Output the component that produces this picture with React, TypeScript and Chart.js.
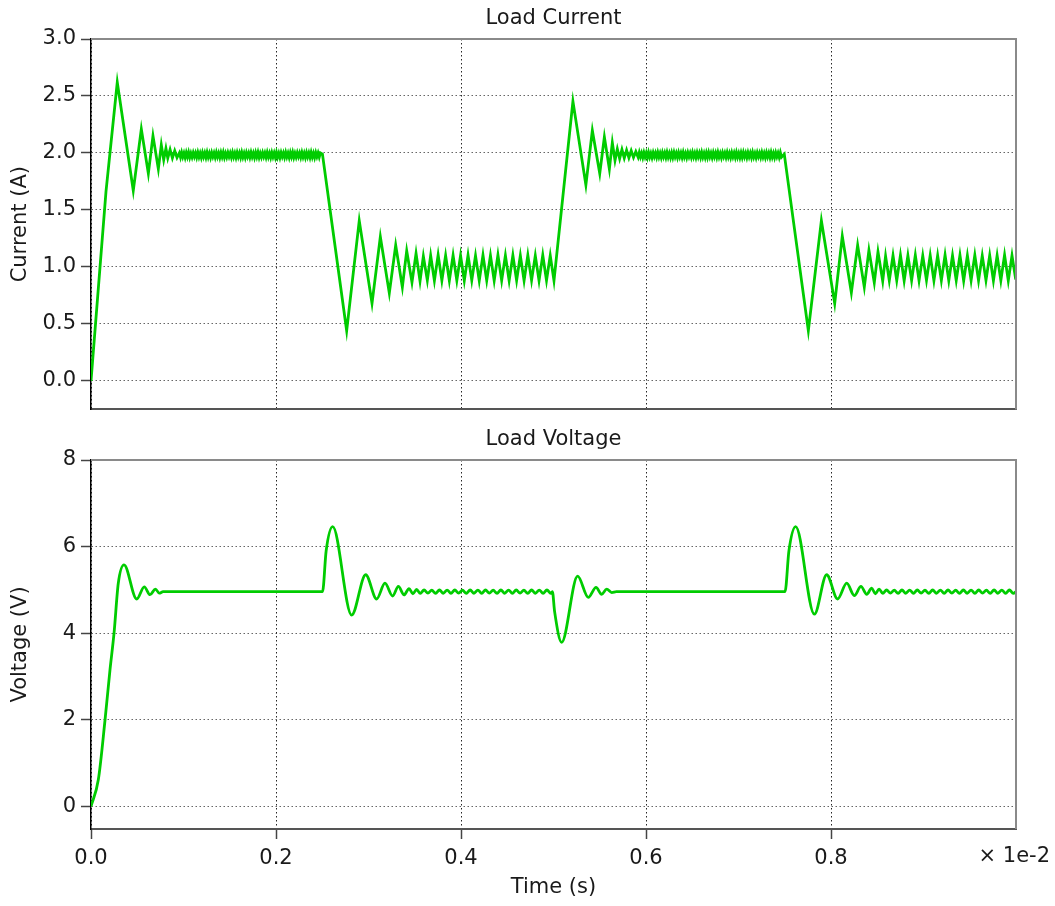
import React, { useEffect, useRef } from 'react';
import { Chart, registerables } from 'chart.js';

Chart.register(...registerables);

const FONT = '"DejaVu Sans", sans-serif';
const GREEN = '#00cc00';
const TEXT = '#1a1a1a';

type Pt = [number, number];

// ---------- axis ticks ----------
const timeTicks = [0, 0.2, 0.4, 0.6, 0.8];
const currentTicks = [0, 0.5, 1.0, 1.5, 2.0, 2.5, 3.0];
const voltageTicks = [0, 2, 4, 6, 8];

// ---------- Load Current (A) vs time (x 1e-2 s) ----------
const currentStartup: Pt[] = [
  [0, 0], [0.0162, 1.66], [0.0284, 2.62], [0.0457, 1.67], [0.0544, 2.21], [0.062, 1.82],
  [0.067, 2.15], [0.0728, 1.86], [0.076, 2.07], [0.0786, 1.94], [0.081, 2.04], [0.083, 1.955],
  [0.0855, 2.03], [0.088, 1.955], [0.0905, 2.02], [0.093, 1.96],
];
const currentBand1Start = 0.0955;
const currentBand1Step = 0.00125;
const currentBand1: number[] = [
  2.0, 1.962, 2.004, 1.965, 1.998, 1.96, 2.003, 1.966, 2.005, 1.961,
  1.997, 1.964, 2.002, 1.967, 2.0, 1.962, 2.004, 1.965, 1.999, 1.96,
  2.003, 1.966, 2.0, 1.961, 2.005, 1.964, 1.998, 1.96, 2.002, 1.967,
  2.0, 1.962, 2.004, 1.965, 1.998, 1.96, 2.003, 1.966, 2.005, 1.961,
  1.997, 1.964, 2.002, 1.967, 2.0, 1.962, 2.004, 1.965, 1.999, 1.96,
  2.003, 1.966, 2.0, 1.961, 2.005, 1.964, 1.998, 1.96, 2.002, 1.967,
  2.0, 1.962, 2.004, 1.965, 1.998, 1.96, 2.003, 1.966, 2.005, 1.961,
  1.997, 1.964, 2.002, 1.967, 2.0, 1.962, 2.004, 1.965, 1.999, 1.96,
  2.003, 1.966, 2.0, 1.961, 2.005, 1.964, 1.998, 1.96, 2.002, 1.967,
  2.0, 1.962, 2.004, 1.965, 1.998, 1.96, 2.003, 1.966, 2.005, 1.961,
  1.997, 1.964, 2.002, 1.967, 2.0, 1.962, 2.004, 1.965, 1.999, 1.96,
  2.003, 1.966, 2.0, 1.961, 2.005, 1.964, 1.998, 1.96, 2.002, 1.967,
  2.0, 1.963, 2.001,
];
const currentDrop1: Pt[] = [
  [0.2502, 1.99], [0.2764, 0.44], [0.29, 1.406], [0.3038, 0.68], [0.3128, 1.265], [0.3225, 0.77],
  [0.3294, 1.19], [0.3366, 0.823], [0.3413, 1.141], [0.347, 0.865], [0.3514, 1.118],
  [0.3557, 0.876], [0.3593, 1.094], [0.3636, 0.882],
];
const currentRipple1Start = 0.3672;
const currentRipple1Step = 0.00404;
const currentRipple1: number[] = [
  1.1, 0.88, 1.105, 0.882, 1.1, 0.879, 1.102, 0.881, 1.1, 0.88,
  1.104, 0.882, 1.099, 0.879, 1.103, 0.881, 1.1, 0.88, 1.105, 0.882,
  1.1, 0.879, 1.102, 0.881, 1.1, 0.88, 1.104, 0.882, 1.099, 0.879,
  1.103, 0.881, 1.1, 0.88,
];
const currentRise: Pt[] = [
  [0.521, 2.453], [0.535, 1.72], [0.542, 2.197], [0.55, 1.82], [0.555, 2.14], [0.5604, 1.86],
  [0.5636, 2.09], [0.5665, 1.935], [0.569, 2.035], [0.5715, 1.95], [0.574, 2.03],
  [0.5765, 1.955], [0.579, 2.025], [0.5815, 1.958], [0.584, 2.02], [0.5865, 1.96], [0.589, 2.012],
];
const currentBand2Start = 0.5915;
const currentBand2Step = 0.00125;
const currentBand2: number[] = [
  1.962, 2.004, 1.965, 1.998, 1.96, 2.003, 1.966, 2.0, 1.961, 2.005,
  1.964, 1.997, 1.96, 2.002, 1.967, 2.0, 1.962, 2.004, 1.965, 1.999,
  1.96, 2.003, 1.966, 2.0, 1.961, 2.005, 1.964, 1.998, 1.96, 2.002,
  1.962, 2.004, 1.965, 1.998, 1.96, 2.003, 1.966, 2.0, 1.961, 2.005,
  1.964, 1.997, 1.96, 2.002, 1.967, 2.0, 1.962, 2.004, 1.965, 1.999,
  1.96, 2.003, 1.966, 2.0, 1.961, 2.005, 1.964, 1.998, 1.96, 2.002,
  1.962, 2.004, 1.965, 1.998, 1.96, 2.003, 1.966, 2.0, 1.961, 2.005,
  1.964, 1.997, 1.96, 2.002, 1.967, 2.0, 1.962, 2.004, 1.965, 1.999,
  1.96, 2.003, 1.966, 2.0, 1.961, 2.005, 1.964, 1.998, 1.96, 2.002,
  1.962, 2.004, 1.965, 1.998, 1.96, 2.003, 1.966, 2.0, 1.961, 2.005,
  1.964, 1.997, 1.96, 2.002, 1.967, 2.0, 1.962, 2.004, 1.965, 1.999,
  1.96, 2.003, 1.966, 2.0, 1.961, 2.005, 1.964, 1.998, 1.96, 2.002,
  1.967, 2.0, 1.962, 2.003, 1.963,
];
const currentDrop2: Pt[] = [
  [0.7495, 1.99], [0.7755, 0.44], [0.7896, 1.406], [0.804, 0.68], [0.8122, 1.27], [0.822, 0.774],
  [0.8288, 1.19], [0.836, 0.823], [0.841, 1.147], [0.8468, 0.862], [0.8508, 1.132], [0.8559, 0.876],
];
const currentRipple2Start = 0.859;
const currentRipple2Step = 0.00402;
const currentRipple2: number[] = [
  1.095, 0.88, 1.1, 0.882, 1.103, 0.879, 1.1, 0.881, 1.104, 0.88,
  1.099, 0.882, 1.102, 0.879, 1.1, 0.881, 1.105, 0.88, 1.1, 0.882,
  1.103, 0.879, 1.1, 0.881, 1.104, 0.88, 1.099, 0.882, 1.102, 0.879,
  1.1, 0.881, 1.105, 0.88, 1.1, 0.89,
];

// ---------- Load Voltage (V) vs time (x 1e-2 s) ----------
const voltageStartup: Pt[] = [
  [0, 0], [0.0079, 0.615], [0.0151, 1.985], [0.0205, 3.15], [0.0249, 4.0], [0.0295, 5.155],
  [0.0357, 5.58], [0.0494, 4.79], [0.0576, 5.07], [0.0638, 4.89], [0.0697, 5.02], [0.0738, 4.925],
  [0.078, 4.96], [0.2503, 4.96],
];
const voltageStep1: Pt[] = [
  [0.2542, 5.9], [0.2613, 6.46], [0.2818, 4.42], [0.297, 5.35], [0.3088, 4.79], [0.3178, 5.155],
  [0.326, 4.86], [0.3323, 5.08], [0.3384, 4.885], [0.3438, 5.03], [0.348, 4.91], [0.352, 5.01],
  [0.356, 4.92],
];
const voltageRipple1Start = 0.3601;
const voltageRipple1Step = 0.00415;
const voltageRipple1: number[] = [
  5.0, 4.925, 4.995, 4.92, 5.0, 4.922, 4.997, 4.92, 5.0, 4.925,
  4.995, 4.92, 5.0, 4.922, 4.997, 4.92, 5.0, 4.925, 4.995, 4.92,
  5.0, 4.922, 4.997, 4.92, 5.0, 4.925, 4.995, 4.92, 5.0, 4.922,
  4.997, 4.92, 5.0, 4.92,
];
const voltageDip: Pt[] = [
  [0.4988, 4.96], [0.5012, 4.5], [0.5088, 3.79], [0.5261, 5.32], [0.5376, 4.83], [0.546, 5.06],
  [0.552, 4.9], [0.5575, 5.02], [0.563, 4.94], [0.568, 4.96], [0.7503, 4.96],
];
const voltageStep2: Pt[] = [
  [0.7545, 5.9], [0.7618, 6.46], [0.782, 4.44], [0.7953, 5.35], [0.8072, 4.79], [0.817, 5.155],
  [0.8252, 4.87], [0.8324, 5.08], [0.8386, 4.9], [0.844, 5.04], [0.848, 4.91], [0.852, 5.02],
  [0.856, 4.92],
];
const voltageRipple2Start = 0.8601;
const voltageRipple2Step = 0.00415;
const voltageRipple2: number[] = [
  5.0, 4.925, 4.995, 4.92, 5.0, 4.922, 4.997, 4.92, 5.0, 4.925,
  4.995, 4.92, 5.0, 4.922, 4.997, 4.92, 5.0, 4.925, 4.995, 4.92,
  5.0, 4.922, 4.997, 4.92, 5.0, 4.925, 4.995, 4.92, 5.0, 4.922,
  4.997, 4.92, 5.0, 4.92,
];
const voltageEnd: Pt[] = [[1.0, 4.96]];

// ---------- helpers ----------
function sampled(start: number, step: number, values: number[]): Pt[] {
  return values.map((v, i) => [start + i * step, v] as Pt);
}
function toXY(pts: Pt[]) {
  return pts.map(([x, y]) => ({ x, y }));
}

const currentSeries = toXY([
  ...currentStartup,
  ...sampled(currentBand1Start, currentBand1Step, currentBand1),
  ...currentDrop1,
  ...sampled(currentRipple1Start, currentRipple1Step, currentRipple1),
  ...currentRise,
  ...sampled(currentBand2Start, currentBand2Step, currentBand2),
  ...currentDrop2,
  ...sampled(currentRipple2Start, currentRipple2Step, currentRipple2),
]);

const voltageSeries = toXY([
  ...voltageStartup,
  ...voltageStep1,
  ...sampled(voltageRipple1Start, voltageRipple1Step, voltageRipple1),
  ...voltageDip,
  ...voltageStep2,
  ...sampled(voltageRipple2Start, voltageRipple2Step, voltageRipple2),
  ...voltageEnd,
]);

function framePlugin(title: string, titleY: number, showExponent: boolean) {
  return {
    id: 'frame_' + title.replace(/\s/g, ''),
    afterDraw(chart: any) {
      const { ctx, chartArea } = chart;
      const { left, right, top, bottom } = chartArea;
      ctx.save();
      ctx.strokeStyle = '#8a8a8a';
      ctx.lineWidth = 2;
      ctx.beginPath();
      ctx.moveTo(left, top);
      ctx.lineTo(right, top);
      ctx.lineTo(right, bottom);
      ctx.stroke();
      ctx.fillStyle = TEXT;
      ctx.font = `21px ${FONT}`;
      ctx.textAlign = 'center';
      ctx.textBaseline = 'middle';
      ctx.fillText(title, (left + right) / 2, titleY);
      if (showExponent) {
        ctx.textAlign = 'right';
        ctx.fillText('× 1e-2', 1050, bottom + 28);
      }
      ctx.restore();
    },
  };
}

const gridDash = [1.5, 2.5];

function setTicks(values: number[]) {
  return (scale: any) => {
    scale.ticks = values.map((v) => ({ value: v }));
  };
}

export default function App() {
  const topRef = useRef<HTMLCanvasElement>(null);
  const botRef = useRef<HTMLCanvasElement>(null);

  useEffect(() => {
    const top = new Chart(topRef.current!, {
      type: 'line',
      data: {
        datasets: [
          {
            data: currentSeries,
            borderColor: GREEN,
            borderWidth: 2.8,
            pointRadius: 0,
            tension: 0,
            fill: false,
          },
        ],
      },
      options: {
        animation: false,
        responsive: false,
        devicePixelRatio: 1,
        layout: { padding: { top: 39, right: 39, left: 0, bottom: 0 } },
        plugins: { legend: { display: false }, tooltip: { enabled: false }, title: { display: false } },
        scales: {
          x: {
            type: 'linear',
            min: 0,
            max: 1,
            afterBuildTicks: setTicks(timeTicks),
            ticks: { display: false },
            grid: { color: 'rgba(0,0,0,0.85)', lineWidth: 1, drawTicks: false },
            border: { color: '#555', width: 2, dash: gridDash },
            afterFit: (s: any) => {
              s.height = 12;
            },
          },
          y: {
            type: 'linear',
            min: -0.25,
            max: 3.0,
            afterBuildTicks: setTicks(currentTicks),
            ticks: {
              callback: (v: any) => Number(v).toFixed(1),
              font: { family: FONT, size: 21 },
              color: TEXT,
              padding: 5,
            },
            grid: {
              color: 'rgba(0,0,0,0.6)',
              lineWidth: 1,
              tickLength: 10,
              tickColor: '#444',
              tickWidth: 1.5,
              tickBorderDash: [],
            },
            border: { color: '#000', width: 1.5, dash: gridDash },
            title: {
              display: true,
              text: 'Current (A)',
              font: { family: FONT, size: 21 },
              color: TEXT,
              padding: { top: 8, bottom: 0 },
            },
            afterFit: (s: any) => {
              s.width = 91;
            },
          },
        },
      },
      plugins: [framePlugin('Load Current', 19, false)],
    } as any);

    const bot = new Chart(botRef.current!, {
      type: 'line',
      data: {
        datasets: [
          {
            data: voltageSeries,
            borderColor: GREEN,
            borderWidth: 2.8,
            pointRadius: 0,
            cubicInterpolationMode: 'monotone',
            fill: false,
          },
        ],
      },
      options: {
        animation: false,
        responsive: false,
        devicePixelRatio: 1,
        layout: { padding: { top: 40, right: 39, left: 0, bottom: 0 } },
        plugins: { legend: { display: false }, tooltip: { enabled: false }, title: { display: false } },
        scales: {
          x: {
            type: 'linear',
            min: 0,
            max: 1,
            afterBuildTicks: setTicks(timeTicks),
            ticks: {
              callback: (v: any) => Number(v).toFixed(1),
              font: { family: FONT, size: 21 },
              color: TEXT,
              padding: 7,
              maxRotation: 0,
              autoSkip: false,
            },
            grid: {
              color: 'rgba(0,0,0,0.85)',
              lineWidth: 1,
              drawTicks: true,
              tickLength: 10,
              tickColor: '#444',
              tickWidth: 1.5,
              tickBorderDash: [],
            },
            border: { color: '#555', width: 2, dash: gridDash },
            title: {
              display: true,
              text: 'Time (s)',
              font: { family: FONT, size: 21 },
              color: TEXT,
              padding: { top: 0, bottom: 6 },
            },
            afterFit: (s: any) => {
              s.height = 77;
            },
          },
          y: {
            type: 'linear',
            min: -0.52,
            max: 8,
            afterBuildTicks: setTicks(voltageTicks),
            ticks: {
              callback: (v: any) => String(v),
              font: { family: FONT, size: 21 },
              color: TEXT,
              padding: 5,
            },
            grid: {
              color: 'rgba(0,0,0,0.6)',
              lineWidth: 1,
              tickLength: 10,
              tickColor: '#444',
              tickWidth: 1.5,
              tickBorderDash: [],
            },
            border: { color: '#000', width: 1.5, dash: gridDash },
            title: {
              display: true,
              text: 'Voltage (V)',
              font: { family: FONT, size: 21 },
              color: TEXT,
              padding: { top: 8, bottom: 0 },
            },
            afterFit: (s: any) => {
              s.width = 91;
            },
          },
        },
      },
      plugins: [framePlugin('Load Voltage', 20, true)],
    } as any);

    return () => {
      top.destroy();
      bot.destroy();
    };
  }, []);

  return (
    <div style={{ position: 'absolute', left: 0, top: 0, width: 1055, height: 906, background: '#fff' }}>
      <canvas
        ref={topRef}
        width={1055}
        height={427}
        style={{ position: 'absolute', left: 0, top: 0, width: 1055, height: 427, display: 'block' }}
      />
      <canvas
        ref={botRef}
        width={1055}
        height={486}
        style={{ position: 'absolute', left: 0, top: 420, width: 1055, height: 486, display: 'block' }}
      />
    </div>
  );
}
